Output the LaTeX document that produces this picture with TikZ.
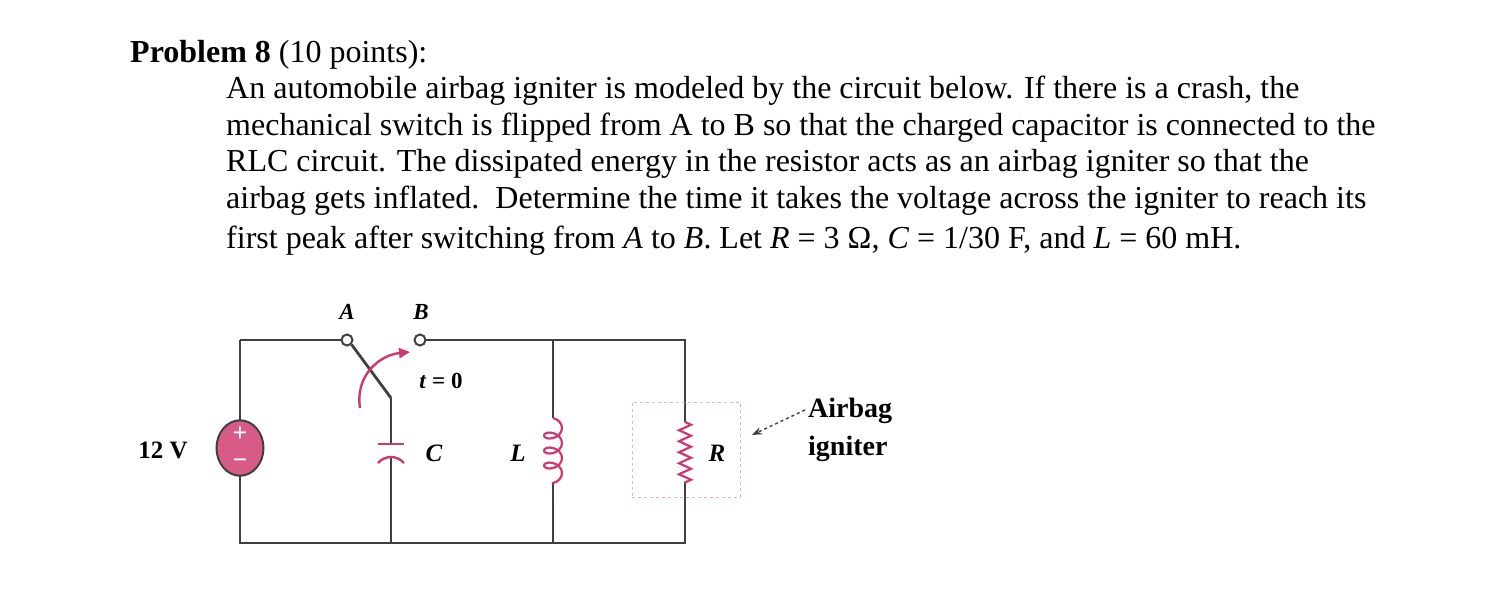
\documentclass[tikz,border=0pt]{standalone}
\usepackage{fontspec}
\setmainfont{Liberation Serif}
\usetikzlibrary{decorations.pathmorphing,arrows.meta}
\definecolor{mag}{RGB}{205,55,115}
\definecolor{srcfill}{RGB}{215,90,135}
\begin{document}
\begin{tikzpicture}[x=1pt,y=-1pt,
  txt/.style={anchor=base west,inner sep=0pt,font=\fontsize{32}{36}\selectfont},
  lbl/.style={inner sep=0pt,font=\fontsize{25}{28}\selectfont\bfseries},
  wire/.style={line width=2.8pt,draw=black!75},
  term/.style={circle,draw=black!75,line width=2pt,fill=white,minimum size=11pt,inner sep=0pt}]
\useasboundingbox (0,0) rectangle (1488,596);
\node[txt] (p) at (130,63) {\textbf{Problem 8} (10 points):};
\node[txt] (l1) at (226,99) {An automobile airbag igniter is modeled by the circuit below. If there is a crash, the};
\node[txt] (l2) at (226,136) {mechanical switch is flipped from A to B so that the charged capacitor is connected to the};
\node[txt] (l3) at (226,172) {RLC circuit. The dissipated energy in the resistor acts as an airbag igniter so that the};
\node[txt] (l4) at (226,209) {airbag gets inflated.\ \ Determine the time it takes the voltage across the igniter to reach its};
\node[txt] (l5) at (226,248) {first peak after switching from \textit{A} to \textit{B}. Let \textit{R} = 3 Ω, \textit{C} = 1/30 F, and \textit{L} = 60 mH.};
% coordinates
\coordinate (tl) at (240,340); \coordinate (bl) at (240,543);
\coordinate (tr) at (685,340); \coordinate (br) at (685,543);
\coordinate (piv) at (391,398);
\coordinate (cb) at (391,543);
\coordinate (lt) at (553,340); \coordinate (lb) at (553,543);
% wires
\draw[wire] (tl) -- (347,340);
\draw[wire] (420,340) -- (tr) -- (685,422);
\draw[wire] (685,483) -- (br) -- (bl) -- (tl);
\draw[wire] (lt) -- (553,418); \draw[wire] (553,484) -- (lb);
\draw[wire] (piv) -- (391,444); \draw[wire] (391,456) -- (cb);
% switch
\node[term] (A) at (347,340) {};
\node[term] (B) at (420,340) {};
\draw[wire] (A.south east) -- (piv);
\draw[mag,line width=2.4pt,-{Triangle[length=11pt,width=10pt]}] (360,408) .. controls (355,375) and (380,355) .. (410,352);
\node[lbl,font=\fontsize{23}{26}\selectfont\bfseries\itshape] (As) at (347,312) {A};
\node[lbl,font=\fontsize{23}{26}\selectfont\bfseries\itshape] (Bs) at (421,312) {B};
\node[lbl,font=\fontsize{23}{26}\selectfont\bfseries] (t0) at (441,381) {\textit{t} = 0};
% capacitor
\draw[mag,line width=2.4pt] (378,444) -- (404,444);
\draw[mag,line width=2.4pt] (378,463) .. controls (385,455) and (397,455) .. (404,463);
\node[lbl,font=\fontsize{25}{28}\selectfont\bfseries\itshape] (C) at (434,453) {C};
% source
\node[circle,draw=black!75,line width=2pt,fill=srcfill,minimum width=47pt,inner sep=0pt,yscale=1.18] (src) at (240,448) {};
\node[lbl,white,font=\fontsize{26}{26}\selectfont\bfseries] at (240,434) {+};
\node[lbl,white,font=\fontsize{26}{26}\selectfont\bfseries] at (240,464) {\textminus};
\node[lbl] (v12) at (163,450) {12 V};
% inductor
\draw[mag,line width=2.2pt,decoration={coil,aspect=0.7,segment length=15pt,amplitude=9pt},decorate] (553,418) -- (553,484);
\node[lbl,font=\fontsize{25}{28}\selectfont\bfseries\itshape] (L) at (518,453) {L};
% resistor
\draw[mag,line width=2.2pt,decoration={zigzag,segment length=11pt,amplitude=6pt},decorate] (685,422) -- (685,483);
\node[lbl,font=\fontsize{25}{28}\selectfont\bfseries\itshape] (R) at (717,453) {R};
\node[draw=mag!40,dashed,line width=1pt,minimum width=108pt,minimum height=95pt,inner sep=0pt] (box) at (686,449.5) {};
% label
\node[lbl,align=left,anchor=west,font=\fontsize{28}{38}\selectfont\bfseries] (air) at (808,430) {Airbag\\igniter};
\draw[black!75,line width=1.4pt,dashed,-{Stealth[length=10pt]}] (805,410) -- (752,435);
\end{tikzpicture}
\end{document}
